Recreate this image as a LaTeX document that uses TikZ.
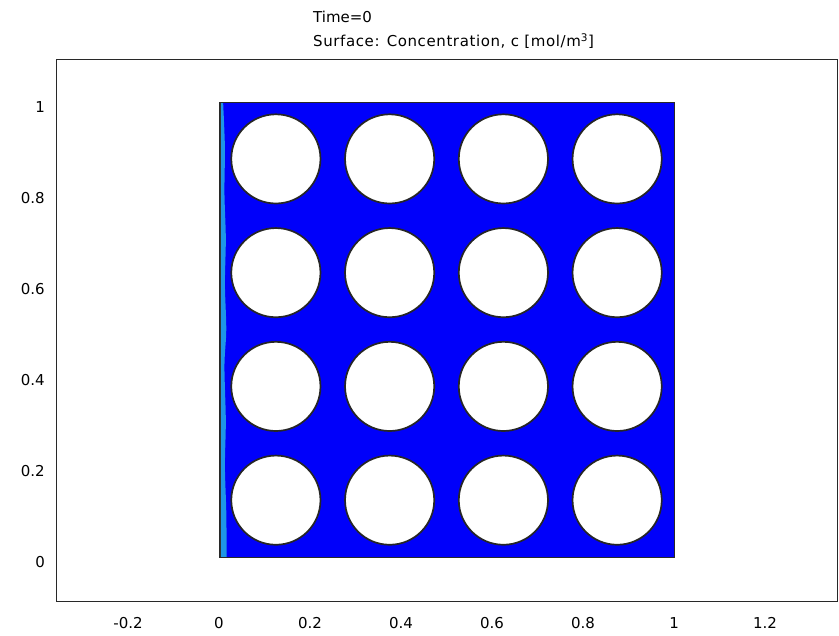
\documentclass[tikz,border=0pt]{standalone}
\usepackage{fontspec}
\setmainfont{DejaVu Sans}
\newfontfamily\widefont[LetterSpace=4]{DejaVu Sans}
\definecolor{fieldblue}{RGB}{0,0,250}
\definecolor{edgecyan}{RGB}{30,150,230}
\definecolor{framegray}{RGB}{40,40,40}
\tikzset{
  plotlabel/.style={font=\fontsize{15}{17}\selectfont, inner sep=0pt},
  hole/.style={draw=black!85, line width=1.7pt, fill=white},
}
\begin{document}
\begin{tikzpicture}[x=455pt, y=455pt]
\useasboundingbox (-0.4813,-0.1714) rectangle (1.3626,1.2242);

\node[plotlabel, anchor=west] (time) at (0.2066,1.1868) {Time=0};
\node[plotlabel, anchor=west] (surface) at (0.2066,1.134) {\widefont Surface: Concentration, c [mol/m\textsuperscript{3}]};

\draw[framegray, line width=1pt] (-0.358,-0.0967) rectangle (1.360,1.0945);

\fill[fieldblue] (0,0) rectangle (1,1);
\fill[edgecyan] (0.003,0) -- (0.003,1) -- plot[smooth] coordinates {(0.009,1) (0.013,0.9) (0.012,0.8) (0.015,0.7) (0.013,0.6) (0.016,0.5) (0.012,0.42) (0.015,0.3) (0.013,0.2) (0.016,0.1) (0.017,0)} -- cycle;
\draw[black!80, line width=1.5pt] (0.002,0) -- (0.002,1);
\draw[framegray, line width=0.8pt] (0,0) rectangle (1,1);

\draw[hole] (0.125,0.875) circle (0.098);
\draw[hole] (0.375,0.875) circle (0.098);
\draw[hole] (0.625,0.875) circle (0.098);
\draw[hole] (0.875,0.875) circle (0.098);
\draw[hole] (0.125,0.625) circle (0.098);
\draw[hole] (0.375,0.625) circle (0.098);
\draw[hole] (0.625,0.625) circle (0.098);
\draw[hole] (0.875,0.625) circle (0.098);
\draw[hole] (0.125,0.375) circle (0.098);
\draw[hole] (0.375,0.375) circle (0.098);
\draw[hole] (0.625,0.375) circle (0.098);
\draw[hole] (0.875,0.375) circle (0.098);
\draw[hole] (0.125,0.125) circle (0.098);
\draw[hole] (0.375,0.125) circle (0.098);
\draw[hole] (0.625,0.125) circle (0.098);
\draw[hole] (0.875,0.125) circle (0.098);

\node[plotlabel] (xm02) at (-0.2,-0.145) {-0.2};
\node[plotlabel] (x00) at (0,-0.145) {0};
\node[plotlabel] (x02) at (0.2,-0.145) {0.2};
\node[plotlabel] (x04) at (0.4,-0.145) {0.4};
\node[plotlabel] (x06) at (0.6,-0.145) {0.6};
\node[plotlabel] (x08) at (0.8,-0.145) {0.8};
\node[plotlabel] (x10) at (1,-0.145) {1};
\node[plotlabel] (x12) at (1.2,-0.145) {1.2};

\node[plotlabel, anchor=east] (y00) at (-0.3824,-0.012) {0};
\node[plotlabel, anchor=east] (y02) at (-0.3824,0.188) {0.2};
\node[plotlabel, anchor=east] (y04) at (-0.3824,0.388) {0.4};
\node[plotlabel, anchor=east] (y06) at (-0.3824,0.588) {0.6};
\node[plotlabel, anchor=east] (y08) at (-0.3824,0.788) {0.8};
\node[plotlabel, anchor=east] (y10) at (-0.3824,0.988) {1};
\end{tikzpicture}
\end{document}
